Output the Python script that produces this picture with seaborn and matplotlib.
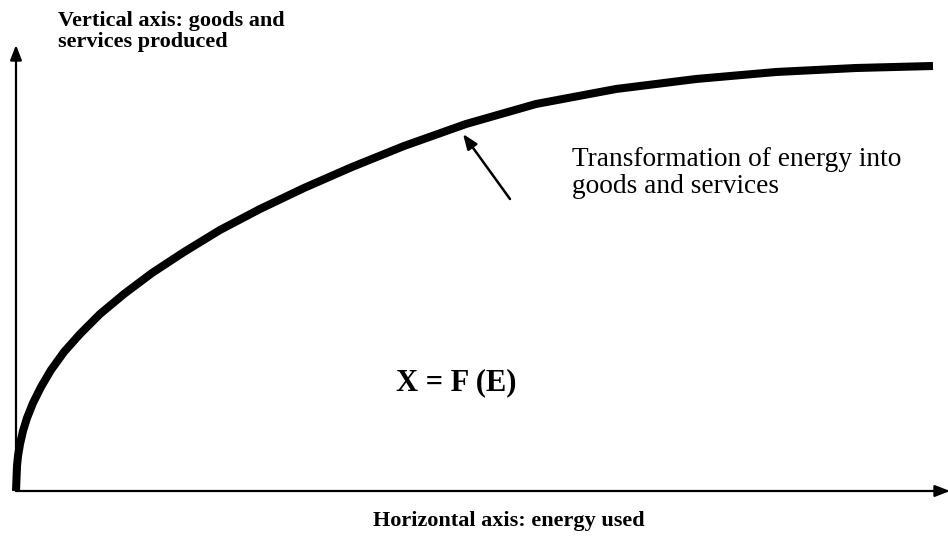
import numpy as np
import pandas as pd
import matplotlib
matplotlib.use("Agg")
import matplotlib.pyplot as plt
import seaborn as sns

# curve: energy used vs goods and services produced
energy = [0, 1, 2, 4, 7, 11, 17, 25, 35, 48, 64, 84, 108, 136, 168, 204, 244, 288,
          336, 388, 450, 520, 600, 680, 760, 840, 917]
output = [0, 25, 35, 47, 60, 73, 88, 104, 121, 139, 157, 177, 197, 218, 239, 261, 282, 303,
          324, 345, 367, 387, 402, 412, 419, 423, 425]

x_label = "Horizontal axis: energy used"
y_label = "Vertical axis: goods and\nservices produced"
curve_note = "Transformation of energy into\ngoods and services"
formula = "X = F (E)"

sns.set_style("white")
plt.rcParams['font.family'] = ['Liberation Serif', 'DejaVu Serif']
plt.rcParams['text.color'] = 'black'

df = pd.DataFrame({"energy": energy, "output": output})

fig = plt.figure(figsize=(9.48, 5.49), dpi=100)
ax = fig.add_axes([0, 0, 1, 1])

sns.lineplot(data=df, x="energy", y="output", sort=False, estimator=None,
             color="black", lw=5.8, ax=ax, solid_capstyle="butt", solid_joinstyle="round")

ax.set_xlim(-16, 932)
ax.set_ylim(-58, 491)
ax.axis("off")

#axes with arrow heads
arrow = dict(arrowstyle="-|>,head_length=0.9,head_width=0.35", color="black", lw=1.6,
             shrinkA=0, shrinkB=0)
ax.annotate("", xy=(934, 0), xytext=(0, 0), arrowprops=arrow, annotation_clip=False)
ax.annotate("", xy=(0, 446), xytext=(0, 0), arrowprops=arrow, annotation_clip=False)

ax.text(42, 480, y_label, fontsize=16, fontweight="bold", va="top", ha="left",
        linespacing=1.1)
ax.text(493, -30, x_label, fontsize=16, fontweight="bold", va="center", ha="center")
ax.text(556, 318, curve_note, fontsize=19.7, va="center", ha="left", linespacing=1.1)
ax.text(440, 108, formula, fontsize=22, fontweight="bold", va="center", ha="center")

#pointer to the curve
ax.annotate("", xy=(447, 357), xytext=(494, 292),
            arrowprops=dict(arrowstyle="-|>,head_length=0.9,head_width=0.35",
                            color="black", lw=1.8, shrinkA=0, shrinkB=0))

fig.savefig("out.png", dpi=100, facecolor="white")
